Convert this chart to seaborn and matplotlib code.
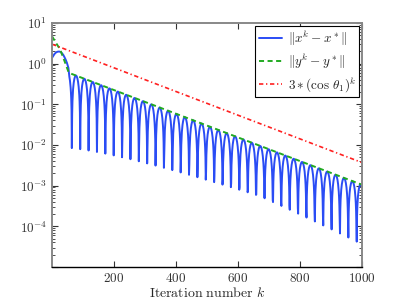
import numpy as np
import matplotlib
matplotlib.use("Agg")
import matplotlib.pyplot as plt
from matplotlib.ticker import FuncFormatter, NullFormatter, LogLocator
import seaborn as sns

# values
k = np.arange(0, 1001)
cos_theta1 = 0.99332          # slope of the red line (decades per iteration = -0.00291)
x_amp = 0.85                  # level of the slow part of ||y^k - y*|| at k = 0
x_period = 27.0165            # iterations between two dips of ||x^k - x*||
x_first_zero = 64.13          # first dip

# early hump of ||x^k - x*|| (k = 0 .. 53)
blue_early_k = [0, 4, 8, 12, 16, 20, 24, 28, 32, 36, 40, 44, 48, 53]
blue_early_v = [1.38, 1.55, 1.72, 1.85, 1.93, 1.97, 1.97, 1.92, 1.80, 1.65, 1.45, 1.25, 1.05, 0.78]

# ||y^k - y*|| read at a few iterations
green_k = [0, 13, 26, 42, 53, 60, 1000]
green_v = [4.7, 3.2, 2.24, 1.07, 0.63, 0.57, 1.05e-3]

k_late = k[k >= 56]
blue_late = x_amp * cos_theta1 ** k_late * np.abs(np.sin(np.pi * (k_late - x_first_zero) / x_period))
blue_k = np.concatenate([blue_early_k, k_late])
blue_v = np.concatenate([blue_early_v, blue_late])

red_v = 3 * cos_theta1 ** k

sns.set_style("ticks")
plt.rcParams["mathtext.fontset"] = "cm"
plt.rcParams["font.family"] = ["DejaVu Sans"]

fig = plt.figure(figsize=(4.0, 3.01), dpi=100)
ax = fig.add_axes([0.13, 0.113, 0.775, 0.811])

sns.lineplot(x=blue_k, y=blue_v, ax=ax, color="#2a4cf5", lw=1.4, label=r"$\|x^k-x^*\|$")
sns.lineplot(x=green_k, y=green_v, ax=ax, color="#22aa22", lw=1.4, label=r"$\|y^k-y^*\|$")
ax.lines[-1].set_dashes([2.6, 1.8])
sns.lineplot(x=k, y=red_v, ax=ax, color="#ff2020", lw=1.2, label=r"$3*(\cos\,\theta_1)^k$")
ax.lines[-1].set_dashes([2.6, 1.6, 0.8, 1.6])

def ylab(v, p):
    e = int(round(np.log10(v)))
    if e < -4:
        return ""
    return r"$\mathsf{10^{%d}}$" % e

ax.set_yscale("log")
ax.set_ylim(1e-5, 10)
ax.set_xlim(0, 1000)
ax.set_xticks([200, 400, 600, 800, 1000])
ax.xaxis.set_major_formatter(FuncFormatter(lambda v, p: r"$\mathsf{%d}$" % v))
ax.yaxis.set_major_locator(LogLocator(base=10, numticks=10))
ax.yaxis.set_minor_locator(LogLocator(base=10, subs=np.arange(2, 10), numticks=20))
ax.yaxis.set_major_formatter(FuncFormatter(ylab))
ax.yaxis.set_minor_formatter(NullFormatter())

ax.tick_params(which="both", direction="in", top=True, right=True, labelsize=9.5, colors="#333333")
ax.tick_params(which="major", length=4, width=0.8)
ax.tick_params(which="minor", length=2, width=0.6)
for s in ["left", "right", "top"]:
    ax.spines[s].set_color("#888888")
    ax.spines[s].set_linewidth(1.4)
ax.spines["bottom"].set_color("black")
ax.spines["bottom"].set_linewidth(1.0)

ax.set_xlabel(r"$\mathrm{Iteration\ number}\ k$", fontsize=10, labelpad=1)

leg = ax.legend(loc="upper right", fontsize=9.5, frameon=True, fancybox=False, framealpha=1,
                borderaxespad=0.2, handlelength=1.8, handletextpad=0.4, labelspacing=0.3,
                borderpad=0.25)
leg.get_frame().set_edgecolor("black")
leg.get_frame().set_linewidth(0.8)

fig.savefig("out.png", dpi=100)
